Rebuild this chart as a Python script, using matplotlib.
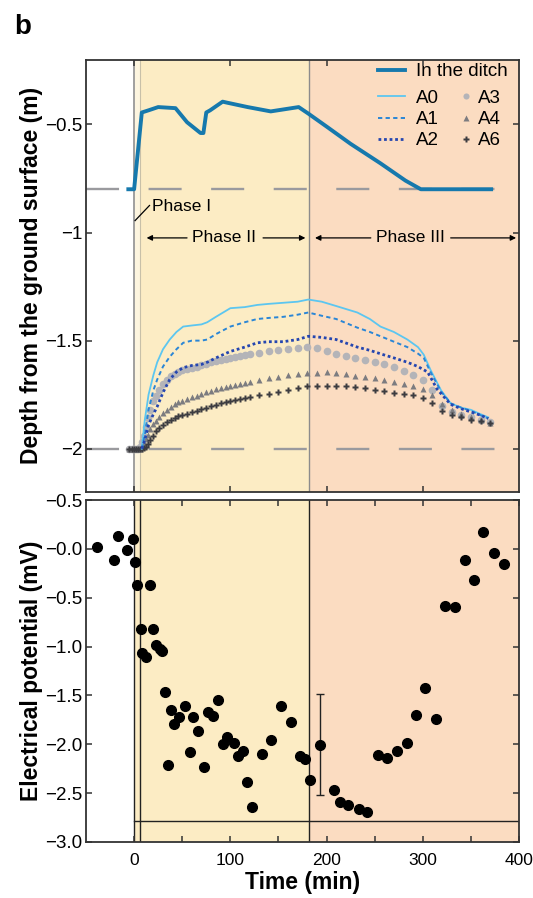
import numpy as np
import matplotlib
matplotlib.use('Agg')
import matplotlib.pyplot as plt

plt.rcParams['font.family'] = ['Liberation Sans', 'DejaVu Sans']

# limites das fases (min)
PHASE1_END = 6
PHASE2_END = 182

# nivel da agua no fosso (m)
ditch_t = [-6, 0, 8, 15, 25, 43, 55, 69, 72, 75, 79, 92, 97, 118, 142, 171, 181,
           200, 225, 256, 282, 298, 330, 371]
ditch_y = [-0.8, -0.8, -0.445, -0.435, -0.42, -0.425, -0.49, -0.54, -0.54, -0.445,
           -0.435, -0.395, -0.40, -0.42, -0.44, -0.42, -0.45, -0.51, -0.59, -0.68,
           -0.76, -0.8, -0.8, -0.8]

# pocos A0, A1, A2 (linhas)
a0_t = [8, 11, 15, 20, 24, 30, 37, 44, 51, 60, 70, 76, 85, 100, 115, 128, 140, 155,
        170, 181, 195, 210, 232, 245, 256, 270, 284, 295, 301, 308, 319, 329, 340,
        350, 360, 368]
a0_y = [-2.0, -1.87, -1.75, -1.66, -1.6, -1.54, -1.495, -1.46, -1.435, -1.43, -1.425,
        -1.415, -1.39, -1.35, -1.345, -1.335, -1.33, -1.325, -1.32, -1.31, -1.32,
        -1.34, -1.37, -1.40, -1.435, -1.46, -1.495, -1.53, -1.565, -1.635, -1.73,
        -1.79, -1.81, -1.82, -1.84, -1.855]
a1_t = [8, 11, 15, 20, 24, 30, 37, 44, 51, 60, 70, 76, 85, 100, 115, 128, 140, 155,
        170, 181, 195, 210, 232, 245, 259, 270, 284, 295, 301, 308, 319, 329, 340,
        350, 360, 368]
a1_y = [-2.0, -1.94, -1.82, -1.73, -1.68, -1.62, -1.575, -1.54, -1.51, -1.50, -1.50,
        -1.495, -1.47, -1.435, -1.415, -1.40, -1.395, -1.39, -1.38, -1.37, -1.385,
        -1.40, -1.44, -1.46, -1.485, -1.505, -1.53, -1.56, -1.58, -1.645, -1.735,
        -1.79, -1.81, -1.825, -1.845, -1.86]
a2_t = [8, 11, 15, 20, 24, 30, 37, 44, 51, 60, 70, 76, 85, 100, 115, 128, 140, 155,
        170, 181, 195, 210, 232, 245, 259, 270, 284, 295, 305, 315, 329, 340, 350,
        360, 368]
a2_y = [-2.0, -1.96, -1.89, -1.84, -1.805, -1.74, -1.68, -1.645, -1.625, -1.615,
        -1.61, -1.60, -1.58, -1.55, -1.53, -1.51, -1.505, -1.505, -1.495, -1.48,
        -1.485, -1.495, -1.53, -1.545, -1.565, -1.58, -1.60, -1.62, -1.645, -1.725,
        -1.795, -1.815, -1.83, -1.845, -1.86]

# pocos A3, A4, A6 (marcadores)
mk_t = [-5, -2, 0, 2, 4, 6, 8, 10, 12, 14, 17, 20, 23, 26, 30, 34, 38, 42, 46, 50,
        55, 60, 65, 70, 75, 80, 85, 90, 95, 100, 105, 110, 115, 120, 130, 140, 150,
        160, 170, 180, 190, 200, 210, 220, 230, 240, 250, 260, 270, 280, 290, 300,
        310, 320, 330, 340, 350, 360, 370]
a3_y = [-2.0, -2.0, -2.0, -2.0, -2.0, -1.99, -1.97, -1.94, -1.90, -1.86,
        -1.82, -1.78, -1.755, -1.73, -1.70, -1.68, -1.665, -1.655, -1.645, -1.635,
        -1.63, -1.625, -1.62, -1.615, -1.61, -1.60, -1.595, -1.59, -1.585, -1.58,
        -1.575, -1.57, -1.565, -1.56,
        -1.555, -1.55, -1.545, -1.54, -1.535, -1.53, -1.535, -1.55, -1.56, -1.57,
        -1.58, -1.59, -1.60, -1.61, -1.62, -1.64, -1.66, -1.68, -1.73, -1.80, -1.83,
        -1.845, -1.855, -1.865, -1.875]
a4_y = [-2.0, -2.0, -2.0, -2.0, -2.0, -2.0, -1.99, -1.975, -1.955, -1.935,
        -1.91, -1.885, -1.87, -1.855, -1.835, -1.82, -1.805, -1.795, -1.785, -1.778,
        -1.77, -1.762, -1.755, -1.745, -1.738, -1.732, -1.726, -1.72, -1.715, -1.71,
        -1.705, -1.70, -1.695, -1.69,
        -1.682, -1.675, -1.667, -1.66, -1.655, -1.65, -1.648, -1.645, -1.65, -1.656,
        -1.663, -1.67, -1.675, -1.68, -1.69, -1.70, -1.71, -1.725, -1.75, -1.795,
        -1.82, -1.84, -1.855, -1.868, -1.88]
a6_y = [-2.0, -2.0, -2.0, -2.0, -2.0, -2.0, -2.0, -1.998, -1.99, -1.98,
        -1.96, -1.94, -1.92, -1.905, -1.89, -1.878, -1.868, -1.858, -1.85, -1.843,
        -1.837, -1.832, -1.825, -1.818, -1.81, -1.803, -1.797, -1.79, -1.785, -1.78,
        -1.775, -1.77, -1.765, -1.76,
        -1.752, -1.745, -1.737, -1.73, -1.72, -1.71, -1.708, -1.708, -1.71, -1.712,
        -1.715, -1.72, -1.728, -1.735, -1.74, -1.745, -1.75, -1.765, -1.79, -1.825,
        -1.845, -1.855, -1.865, -1.873, -1.88]

# potencial eletrico (mV)
ep_t = [-38.1, -21.4, -16.8, -6.9, -0.8, 0.9, 2.7, 7.3, 8.7, 12.2, 16.5, 19.3, 22.9,
        26.4, 29.2, 32.4, 35.3, 38.1, 41.7, 47.0, 53.0, 58.3, 61.1, 66.5, 72.5, 76.7,
        82.4, 87.7, 92.0, 96.6, 103.6, 107.9, 113.2, 117.8, 122.8, 132.7, 142.6,
        152.9, 162.8, 172.4, 178.0, 183.0, 192.9, 207.8, 213.5, 222.0, 233.6, 242.5,
        253.2, 263.1, 272.7, 283.3, 292.8, 302.8, 313.4, 323.3, 334.0, 343.5, 353.4,
        363.0, 373.6, 384.3]
ep_v = [0.02, -0.11, 0.13, -0.01, 0.10, -0.135, -0.37, -0.825, -1.07, -1.11, -0.37,
        -0.82, -0.98, -1.02, -1.05, -1.47, -2.21, -1.65, -1.79, -1.72, -1.61, -2.08,
        -1.72, -1.86, -2.23, -1.67, -1.71, -1.55, -2.0, -1.93, -1.99, -2.12, -2.07,
        -2.39, -2.64, -2.10, -1.96, -1.61, -1.77, -2.12, -2.15, -2.37, -2.01, -2.47,
        -2.59, -2.62, -2.66, -2.69, -2.11, -2.14, -2.07, -1.99, -1.70, -1.42, -1.74,
        -0.58, -0.60, -0.11, -0.32, 0.17, -0.04, -0.155]
err_t = [192.9]
err_v = [-2.01]
err_lo = [0.51]
err_hi = [0.52]
ep_base = -2.78

ep_ticks = [0.5, 0.0, -0.5, -1.0, -1.5, -2.0, -2.5, -3.0]
ep_ticklabels = ['\u22120.5', '\u22120.0', '\u22120.5', '\u22121.0', '\u22121.5',
                 '\u22122.0', '\u22122.5', '\u22123.0']
depth_ticks = [-0.5, -1.0, -1.5, -2.0]
depth_ticklabels = ['\u22120.5', '\u22121', '\u22121.5', '\u22122']

YELLOW = '#fcecc4'
PALE = '#fdf5df'
PEACH = '#fbdcc1'
FRAME = '#333333'

W, H = 533, 898
fig = plt.figure(figsize=(W / 100, H / 100), dpi=100)
ax1 = fig.add_axes([86 / W, 1 - 492 / H, 433 / W, 432.5 / H])
ax2 = fig.add_axes([86 / W, 1 - 842 / H, 433 / W, 342 / H])

for ax in (ax1, ax2):
    ax.set_xlim(-50, 400)
    ax.axvspan(PHASE2_END, 400, color=PEACH, lw=0, zorder=0)
    for s in ax.spines.values():
        s.set_color(FRAME)
        s.set_linewidth(1.3)
    ax.tick_params(which='both', direction='in', top=True, right=True, length=4,
                   width=1.1, color=FRAME, labelsize=12.5)
    ax.tick_params(axis='y', labelsize=13.5, pad=2.5)

# ---- painel de cima: profundidade ----
ax1.axvspan(0, PHASE1_END, color=PALE, lw=0, zorder=0)
ax1.axvspan(PHASE1_END, PHASE2_END, color=YELLOW, lw=0, zorder=0)
ax1.axvline(0, color='#999999', lw=1.3, zorder=1)
ax1.axvline(PHASE1_END, color='#c8c0a8', lw=0.8, zorder=1)
ax1.axvline(PHASE2_END, color='#8c8c8c', lw=1.0, zorder=1)
for yy in (-0.8, -2.0):
    ax1.axhline(yy, color='#9a9a9e', lw=1.7, linestyle=(0, (14, 12.5)), zorder=1)

l_a0, = ax1.plot(a0_t, a0_y, color='#5cc6f0', lw=1.3, zorder=3)
l_a1, = ax1.plot(a1_t, a1_y, color='#2a86d6', lw=1.4, linestyle=(0, (2.2, 1.7)), zorder=3)
l_a2, = ax1.plot(a2_t, a2_y, color='#2546b0', lw=2.0, linestyle=(0, (1, 1)), zorder=3)
m_a3, = ax1.plot(mk_t, a3_y, 'o', color='#b4b4b8', ms=5.5, mec='none', zorder=2)
m_a4, = ax1.plot(mk_t, a4_y, '^', color='#7c7c80', ms=5, mec='none', zorder=2)
m_a6, = ax1.plot(mk_t, a6_y, 'P', color='#3c3c40', ms=5, mec='none', zorder=2)
l_ditch, = ax1.plot(ditch_t, ditch_y, color='#1679ad', lw=2.8, zorder=4,
                    solid_joinstyle='round')

ax1.set_ylim(-2.2, -0.2)
ax1.set_yticks(depth_ticks)
ax1.set_yticklabels(depth_ticklabels)
ax1.set_xticks([0, 100, 200, 300])
ax1.tick_params(labelbottom=False)
ax1.set_ylabel('Depth from the ground surface (m)', fontsize=16.5, fontweight='bold')
ax1.yaxis.set_label_coords(-0.10, 0.5)

# anotacoes das fases
ax1.plot([1, 16], [-0.945, -0.875], color='k', lw=0.9, zorder=5)
ax1.text(18.5, -0.88, 'Phase I', fontsize=12.5, va='center', ha='left')
ax1.text(93, -1.025, 'Phase II', fontsize=12.5, va='center', ha='center')
ax1.text(287, -1.025, 'Phase III', fontsize=12.5, va='center', ha='center')
arrow = dict(arrowstyle='-|>', color='k', lw=0.9, mutation_scale=8, shrinkA=0, shrinkB=0)
for tail, tip in ((55, 13), (134, 178), (246, 188), (329, 397)):
    ax1.annotate('', xy=(tip, -1.025), xytext=(tail, -1.025), arrowprops=arrow)

leg_kw = dict(frameon=False, fontsize=13.5, borderpad=0, borderaxespad=0,
              labelspacing=0.22, numpoints=1, loc='upper left')
leg1 = ax1.legend([l_ditch], ['In the ditch'], bbox_to_anchor=(0.674, 0.992),
                  handlelength=1.45, handletextpad=0.6, **leg_kw)
ax1.add_artist(leg1)
leg2 = ax1.legend([l_a0, l_a1, l_a2], ['A0', 'A1', 'A2'], bbox_to_anchor=(0.674, 0.93),
                  handlelength=1.45, handletextpad=0.6, **leg_kw)
ax1.add_artist(leg2)
ax1.legend([m_a3, m_a4, m_a6], ['A3', 'A4', 'A6'], bbox_to_anchor=(0.872, 0.93),
           handlelength=0.3, handletextpad=0.45, markerscale=0.8, **leg_kw)

# ---- painel de baixo: potencial eletrico ----
ax2.axvspan(0, PHASE2_END, color=YELLOW, lw=0, zorder=0)
for xx in (0, PHASE1_END, PHASE2_END):
    ax2.axvline(xx, color='#222222', lw=1.0, zorder=1)
ax2.plot([0, 400], [ep_base, ep_base], color='#222222', lw=1.0, zorder=1)
ax2.plot(ep_t, ep_v, 'o', color='black', ms=7, zorder=3)
ax2.errorbar(err_t, err_v, yerr=[err_lo, err_hi], fmt='none', ecolor='#222222',
             elinewidth=1.0, capsize=3, capthick=1.0, zorder=2)

ax2.set_ylim(-3.0, 0.5)
ax2.set_yticks(ep_ticks)
ax2.set_yticklabels(ep_ticklabels)
ax2.set_xticks([0, 100, 200, 300, 400])
ax2.set_xticks([50, 150, 250, 350], minor=True)
ax2.tick_params(axis='x', pad=8)
ax2.set_ylabel('Electrical potential (mV)', fontsize=16.5, fontweight='bold')
ax2.yaxis.set_label_coords(-0.10, 0.5)
ax2.set_xlabel('Time (min)', fontsize=16.5, fontweight='bold')
ax2.xaxis.set_label_coords(0.5, -0.085)

fig.text(14 / W, 1 - 34 / H, 'b', fontsize=20, fontweight='bold', ha='left', va='baseline')

fig.savefig('out.png', dpi=100)
